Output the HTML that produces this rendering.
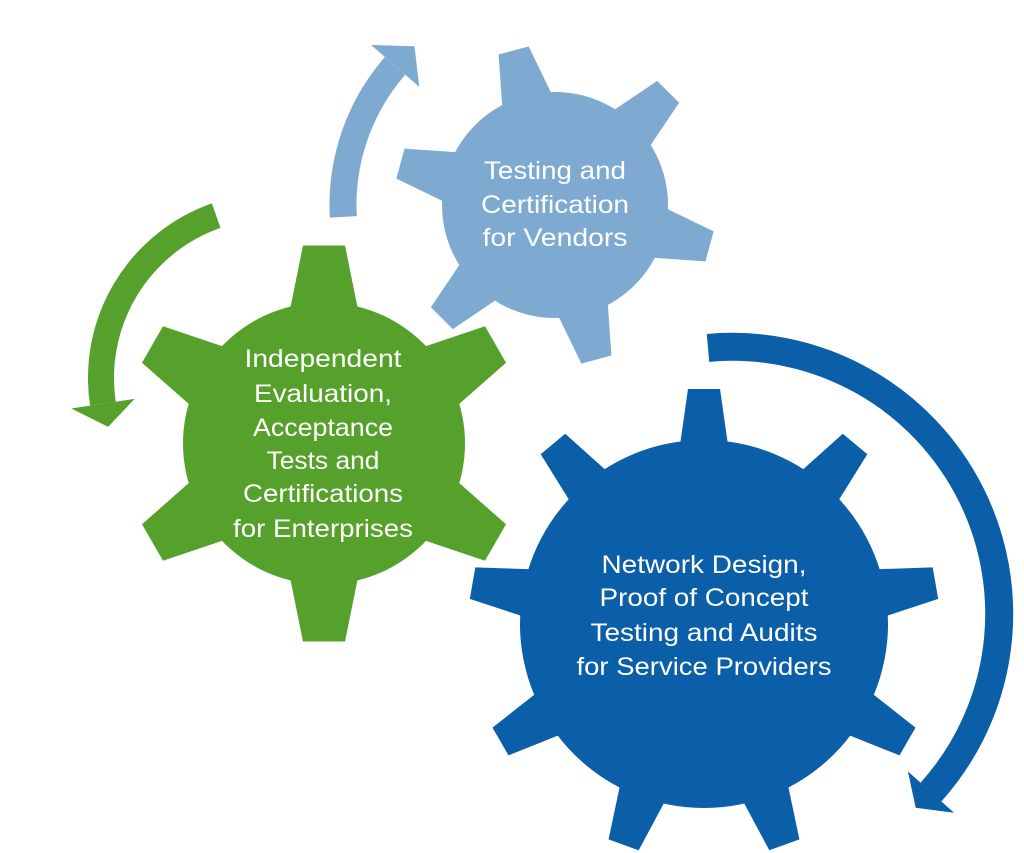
<!DOCTYPE html>
<html><head><meta charset="utf-8"><style>
html,body{margin:0;padding:0;background:#fff;}
svg{display:block;}
text{font-family:"Liberation Sans",sans-serif;font-size:25px;fill:#fff;text-anchor:middle;}
</style></head><body>
<svg id="s" width="1024" height="853" viewBox="0 0 1024 853" xmlns="http://www.w3.org/2000/svg">
<g id="shapes"></g>
<g>
<text x="555" y="179" textLength="142" lengthAdjust="spacingAndGlyphs">Testing and</text>
<text x="555" y="213" textLength="148" lengthAdjust="spacingAndGlyphs">Certification</text>
<text x="555" y="246" textLength="145" lengthAdjust="spacingAndGlyphs">for Vendors</text>

<text x="323" y="367" textLength="157" lengthAdjust="spacingAndGlyphs">Independent</text>
<text x="323" y="402" textLength="138" lengthAdjust="spacingAndGlyphs">Evaluation,</text>
<text x="323" y="436" textLength="140" lengthAdjust="spacingAndGlyphs">Acceptance</text>
<text x="323" y="469" textLength="113" lengthAdjust="spacingAndGlyphs">Tests and</text>
<text x="323" y="502" textLength="160" lengthAdjust="spacingAndGlyphs">Certifications</text>
<text x="323" y="537" textLength="180" lengthAdjust="spacingAndGlyphs">for Enterprises</text>

<text x="704" y="573" textLength="205" lengthAdjust="spacingAndGlyphs">Network Design,</text>
<text x="704" y="606" textLength="209" lengthAdjust="spacingAndGlyphs">Proof of Concept</text>
<text x="704" y="641" textLength="227" lengthAdjust="spacingAndGlyphs">Testing and Audits</text>
<text x="704" y="675" textLength="255" lengthAdjust="spacingAndGlyphs">for Service Providers</text>
</g>
</svg>
<script>
(function(){
var NS="http://www.w3.org/2000/svg",g=document.getElementById("shapes");
function el(n,a){var e=document.createElementNS(NS,n);for(var k in a)e.setAttribute(k,a[k]);g.appendChild(e);return e;}
function gear(cx,cy,rb,R,hb,ht,n,start,col){
  el("circle",{cx:cx,cy:cy,r:rb,fill:col});
  for(var i=0;i<n;i++){
    var a=(start+i*360/n)*Math.PI/180;
    var ux=Math.sin(a),uy=-Math.cos(a),vx=Math.cos(a),vy=Math.sin(a);
    var r0=rb-12,p=[];
    p.push([cx+r0*ux+hb*vx,cy+r0*uy+hb*vy]);
    p.push([cx+R*ux+ht*vx,cy+R*uy+ht*vy]);
    p.push([cx+R*ux-ht*vx,cy+R*uy-ht*vy]);
    p.push([cx+r0*ux-hb*vx,cy+r0*uy-hb*vy]);
    el("polygon",{points:p.map(function(q){return q[0].toFixed(1)+","+q[1].toFixed(1)}).join(" "),fill:col});
  }
}
function pt(cx,cy,r,d){var a=d*Math.PI/180;return [cx+r*Math.cos(a),cy+r*Math.sin(a)];}
function arrow(cx,cy,r,w,a0,a1,at,hw,col){
  var p0=pt(cx,cy,r,a0),p1=pt(cx,cy,r,a1);
  var sweep=a1>a0?1:0,large=Math.abs(a1-a0)>180?1:0;
  el("path",{d:"M"+p0[0]+","+p0[1]+" A"+r+","+r+" 0 "+large+" "+sweep+" "+p1[0]+","+p1[1],fill:"none",stroke:col,"stroke-width":w});
  var o=pt(cx,cy,r+hw,a1),i=pt(cx,cy,r-hw,a1),t=pt(cx,cy,r,at);
  el("polygon",{points:[o,t,i].map(function(q){return q[0].toFixed(1)+","+q[1].toFixed(1)}).join(" "),fill:col});
}
arrow(555,205,212,27,176.8,221,228.5,32,"#7eaad2");
arrow(273,378,172,26,250.7,171.4,163.5,32,"#56a12c");
arrow(732.2,613.8,267,28,-95.2,41.9,46.6,31,"#0b5ea8");
gear(555,205,113,160,27,15.5,6,-15,"#7eaad2");
gear(324,443.5,141,198,35,21,6,0,"#56a12c");
gear(704,624,184,235,25,16,9,0,"#0b5ea8");
})();
</script>
</body></html>
